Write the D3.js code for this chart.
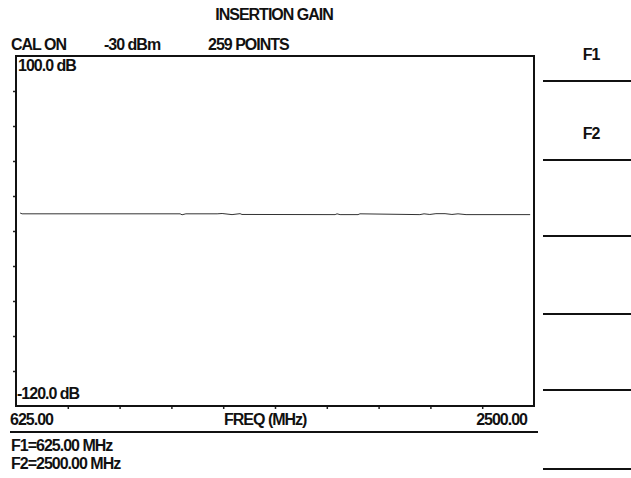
<!DOCTYPE html>
<html>
<head>
<meta charset="utf-8">
<script src="https://cdn.jsdelivr.net/npm/d3@7"></script>
<style>
  body { margin: 0; background: #fff; }
  text { font-family: "Liberation Sans", Arial, sans-serif; fill: #111; }
</style>
</head>
<body>
<div id="chart"></div>
<script>
// analyzer settings / labels
const title = "INSERTION GAIN";
const header = ["CAL ON", "-30 dBm", "259 POINTS"];
const markers = ["F1=625.00 MHz", "F2=2500.00 MHz"];
const softkeys = ["F1", "F2", "", "", "", ""];

// axis ranges
const freqRange = [625, 2500];   // MHz
const gainRange = [-120, 100];   // dB
const divisions = 10;

// trace readings (MHz, dB)
const traceFreq = [640, 647, 1219, 1226, 1240, 1353, 1371, 1407, 1436, 1443,
                   1780, 1787, 1798, 1863, 1870, 2087, 2102, 2123, 2145, 2178,
                   2203, 2225, 2254, 2486];
const traceGain = [1.3, 0.8, 0.8, 0.2, 0.8, 0.8, 1.0, 0.3, 0.9, 0.4,
                   0.3, 0.8, 0.3, 0.3, 0.8, 0.3, 0.8, 0.4, 0.9, 0.9,
                   0.4, 0.8, 0.3, 0.3];

const W = 631, H = 478;
const box = {left: 16, right: 534, top: 56, bottom: 406};

const svg = d3.select("#chart").append("svg")
    .attr("width", W)
    .attr("height", H);

const x = d3.scaleLinear().domain(freqRange).range([box.left, box.right]);
const y = d3.scaleLinear().domain(gainRange).range([box.bottom, box.top]);

const step = (a, b) => d3.range(1, divisions).map(i => a + (b - a) * i / divisions);

// ticks, outside the box
svg.append("g")
    .attr("transform", `translate(${box.left},0)`)
    .call(d3.axisLeft(y).tickValues(step(gainRange[0], gainRange[1])).tickSize(3).tickFormat(""))
    .call(g => g.select(".domain").remove())
    .selectAll("line").attr("stroke", "#222").attr("stroke-width", 1.5);

svg.append("g")
    .attr("transform", `translate(0,${box.bottom})`)
    .call(d3.axisBottom(x).tickValues(step(freqRange[0], freqRange[1])).tickSize(3).tickFormat(""))
    .call(g => g.select(".domain").remove())
    .selectAll("line").attr("stroke", "#222").attr("stroke-width", 1.5);

// frame
svg.append("rect")
    .attr("x", box.left).attr("y", box.top)
    .attr("width", box.right - box.left)
    .attr("height", box.bottom - box.top)
    .attr("fill", "none")
    .attr("stroke", "#111")
    .attr("stroke-width", 2);

// trace
const line = d3.line()
    .x((d, i) => x(traceFreq[i]))
    .y(d => y(d));
svg.append("path")
    .datum(traceGain)
    .attr("d", line)
    .attr("fill", "none")
    .attr("stroke", "#333")
    .attr("stroke-width", 1);

const txt = (s, tx, ty, anchor) => svg.append("text")
    .attr("x", tx).attr("y", ty)
    .attr("text-anchor", anchor || "start")
    .style("font-size", "16px")
    .style("font-weight", "bold")
    .style("letter-spacing", "-1px")
    .text(s);

txt(title, 274, 20, "middle");
txt(header[0], 11, 50);
txt(header[1], 104, 50);
txt(header[2], 208, 50);

txt(gainRange[1].toFixed(1) + " dB", 18, 71);
txt(gainRange[0].toFixed(1) + " dB", 17, 399);

txt(freqRange[0].toFixed(2), 10, 425);
txt("FREQ (MHz)", 224, 425);
txt(freqRange[1].toFixed(2), 527, 425, "end");

svg.append("line")
    .attr("x1", 10).attr("x2", 538)
    .attr("y1", 432).attr("y2", 432)
    .attr("stroke", "#111").attr("stroke-width", 2);

markers.forEach((m, i) => txt(m, 11, 451 + i * 18));

// softkey panel
const keyLines = [81, 160, 236, 314, 390, 469];
softkeys.forEach((k, i) => {
    svg.append("line")
        .attr("x1", 543).attr("x2", W)
        .attr("y1", keyLines[i]).attr("y2", keyLines[i])
        .attr("stroke", "#111").attr("stroke-width", 2);
    if (k) txt(k, 591, keyLines[i] - 21, "middle");
});
</script>
</body>
</html>
